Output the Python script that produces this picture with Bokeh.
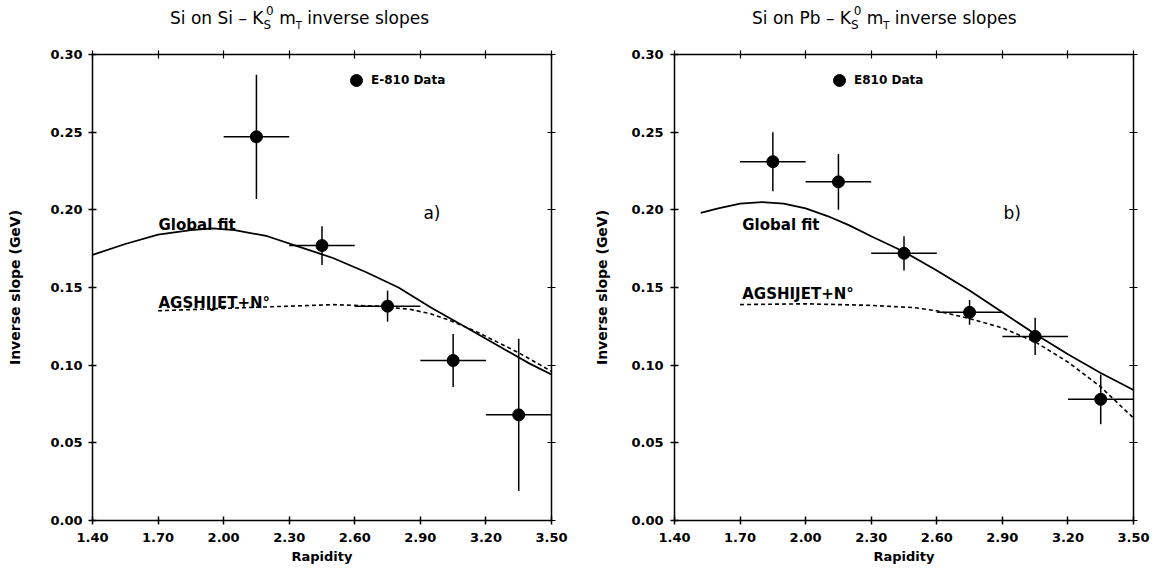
from bokeh.plotting import figure
from bokeh.models import (LinearAxis, FixedTicker, NumeralTickFormatter, CustomJSTickFormatter,
                          Label, Legend, LegendItem, ColumnDataSource, Range1d, Div)
from bokeh.layouts import row, column
from bokeh.embed import file_html
from bokeh.resources import INLINE

FONT = "DejaVu Sans"

# ---------------- data ----------------
XTICKS = [1.40, 1.70, 2.00, 2.30, 2.60, 2.90, 3.20, 3.50]
YTICKS = [0.00, 0.05, 0.10, 0.15, 0.20, 0.25, 0.30]

TITLE_A = "Si on Si"
TITLE_B = "Si on Pb"

# Panel a) Si on Si
A_X = [2.15, 2.45, 2.75, 3.05, 3.35]
A_Y = [0.247, 0.177, 0.138, 0.103, 0.068]
A_XERR = [0.15, 0.15, 0.15, 0.15, 0.15]
A_YERR = [0.040, 0.0125, 0.010, 0.017, 0.049]
A_FIT_X = [1.40, 1.55, 1.70, 1.85, 1.95, 2.05, 2.20, 2.35, 2.50, 2.65, 2.80, 2.95, 3.10, 3.25, 3.40, 3.50]
A_FIT_Y = [0.171, 0.178, 0.184, 0.187, 0.188, 0.187, 0.183, 0.176, 0.169, 0.160, 0.150, 0.137, 0.125, 0.113, 0.101, 0.094]
A_SIM_X = [1.70, 1.90, 2.10, 2.30, 2.50, 2.70, 2.85, 2.95, 3.05, 3.15, 3.25, 3.35, 3.45, 3.50]
A_SIM_Y = [0.135, 0.136, 0.137, 0.138, 0.139, 0.138, 0.136, 0.133, 0.128, 0.122, 0.115, 0.108, 0.100, 0.096]

# Panel b) Si on Pb
B_X = [1.85, 2.15, 2.45, 2.75, 3.05, 3.35]
B_Y = [0.231, 0.218, 0.172, 0.134, 0.1185, 0.078]
B_XERR = [0.15, 0.15, 0.15, 0.15, 0.15, 0.15]
B_YERR = [0.019, 0.018, 0.011, 0.008, 0.012, 0.016]
B_FIT_X = [1.52, 1.60, 1.70, 1.80, 1.90, 2.00, 2.10, 2.20, 2.30, 2.45, 2.60, 2.75, 2.90, 3.05, 3.20, 3.35, 3.50]
B_FIT_Y = [0.198, 0.201, 0.204, 0.205, 0.204, 0.201, 0.196, 0.190, 0.183, 0.173, 0.161, 0.148, 0.134, 0.120, 0.107, 0.095, 0.084]
B_SIM_X = [1.70, 2.00, 2.30, 2.50, 2.60, 2.75, 2.90, 3.05, 3.20, 3.35, 3.50]
B_SIM_Y = [0.139, 0.1395, 0.1385, 0.137, 0.135, 0.130, 0.124, 0.115, 0.102, 0.086, 0.066]


def title_div(head, width, pad_left):
    html = (
        f'<div style="padding-left:{pad_left}px;padding-top:8px;font-family:\'DejaVu Sans\';'
        f'font-size:17px;line-height:20px;color:black;white-space:nowrap;">'
        f'{head} &ndash; K'
        f'<sub style="font-size:12px;line-height:0;vertical-align:-5px;">S</sub>'
        f'<sup style="font-size:12px;line-height:0;vertical-align:9px;margin-left:-5px;">0</sup>'
        f' m<sub style="font-size:10px;line-height:0;vertical-align:-5px;">T</sub> inverse slopes'
        f'</div>'
    )
    return Div(text=html, width=width, height=36, margin=(0, 0, 0, 0))


def make_panel(legend_text, tag, tag_xy, fit_lbl_xy, sim_lbl_xy,
               px, py, xerr, yerr, fx, fy, sx, sy,
               width, bl, br, ylab_standoff, ytick_standoff, legend_loc):
    p = figure(width=width, height=534, output_backend="svg", toolbar_location=None,
               x_range=Range1d(XTICKS[0], XTICKS[-1]), y_range=Range1d(YTICKS[0], YTICKS[-1]),
               min_border_left=bl, min_border_right=br, min_border_top=18, min_border_bottom=50,
               background_fill_color="white", border_fill_color="white")
    p.outline_line_color = None
    p.xgrid.visible = False
    p.ygrid.visible = False

    # axes
    p.xaxis.ticker = FixedTicker(ticks=XTICKS)
    p.yaxis.ticker = FixedTicker(ticks=YTICKS)
    p.xaxis.formatter = NumeralTickFormatter(format="0.00")
    p.yaxis.formatter = NumeralTickFormatter(format="0.00")
    p.xaxis.axis_label = "Rapidity"
    p.yaxis.axis_label = "Inverse slope (GeV)"
    for ax in (p.xaxis[0], p.yaxis[0]):
        ax.axis_line_width = 1.5
        ax.major_tick_line_width = 1.5
        ax.major_tick_in = 4
        ax.major_tick_out = 4
        ax.minor_tick_line_color = None
        ax.major_label_text_font = FONT
        ax.major_label_text_font_style = "bold"
        ax.major_label_text_font_size = "13px"
        ax.major_label_text_color = "black"
        ax.axis_label_text_font = FONT
        ax.axis_label_text_font_style = "bold"
        ax.axis_label_text_color = "black"
    p.xaxis.axis_label_text_font_size = "13px"
    p.yaxis.axis_label_text_font_size = "14px"
    p.xaxis.major_label_standoff = 8
    p.xaxis.axis_label_standoff = 4
    p.yaxis.major_label_standoff = ytick_standoff
    p.yaxis.axis_label_standoff = ylab_standoff

    blank = CustomJSTickFormatter(code="return ''")
    top = LinearAxis(ticker=FixedTicker(ticks=XTICKS), formatter=blank)
    right = LinearAxis(ticker=FixedTicker(ticks=YTICKS), formatter=blank)
    for ax in (top, right):
        ax.axis_line_width = 1.5
        ax.major_tick_line_width = 1.2
        ax.major_tick_in = 4
        ax.major_tick_out = 4
        ax.minor_tick_line_color = None
        ax.major_label_standoff = 0
        ax.major_label_text_font_size = "6px"
    p.add_layout(top, "above")
    p.add_layout(right, "right")

    # curves
    p.line(fx, fy, line_color="black", line_width=1.8)
    p.line(sx, sy, line_color="black", line_width=1.6, line_dash="4 3")

    # error bars
    src = ColumnDataSource(dict(
        x=px, y=py,
        xl=[a - b for a, b in zip(px, xerr)], xr=[a + b for a, b in zip(px, xerr)],
        yl=[a - b for a, b in zip(py, yerr)], yh=[a + b for a, b in zip(py, yerr)],
    ))
    p.segment(x0="xl", y0="y", x1="xr", y1="y", source=src, line_color="black", line_width=1.5)
    p.segment(x0="x", y0="yl", x1="x", y1="yh", source=src, line_color="black", line_width=1.5)
    pts = p.scatter(x="x", y="y", source=src, size=12, marker="circle",
                    fill_color="black", line_color="black")

    legend = Legend(items=[LegendItem(label=legend_text, renderers=[pts])], location=legend_loc,
                    border_line_color=None, background_fill_alpha=0, padding=0, margin=0,
                    glyph_width=30, glyph_height=30, label_standoff=0, spacing=0,
                    label_text_font=FONT, label_text_font_size="12px",
                    label_text_font_style="bold", label_text_color="black")
    p.add_layout(legend)

    def lab(x, y, t, size, style):
        p.add_layout(Label(x=x, y=y, text=t, text_font=FONT, text_font_size=size,
                           text_font_style=style, text_color="black",
                           text_align="left", text_baseline="alphabetic"))

    lab(fit_lbl_xy[0], fit_lbl_xy[1], "Global fit", "15px", "bold")
    lab(sim_lbl_xy[0], sim_lbl_xy[1], "AGSHIJET+N\u00b0", "15px", "bold")
    lab(tag_xy[0], tag_xy[1], tag, "17px", "normal")
    return p


pa = make_panel("E-810 Data", "a)", (2.914, 0.198), (1.702, 0.190), (1.702, 0.140),
                A_X, A_Y, A_XERR, A_YERR, A_FIT_X, A_FIT_Y, A_SIM_X, A_SIM_Y,
                588, 92, 37, 24, 6, (249, 425))
pb = make_panel("E810 Data", "b)", (2.905, 0.198), (1.71, 0.190), (1.71, 0.1455),
                B_X, B_Y, B_XERR, B_YERR, B_FIT_X, B_FIT_Y, B_SIM_X, B_SIM_Y,
                565, 86, 20, 18, 7, (150, 425))

ta = title_div(TITLE_A, 588, 170)
tb = title_div(TITLE_B, 565, 164)

layout = column(row(ta, tb), row(pa, pb))
open("out.html", "w").write(file_html(layout, INLINE))
